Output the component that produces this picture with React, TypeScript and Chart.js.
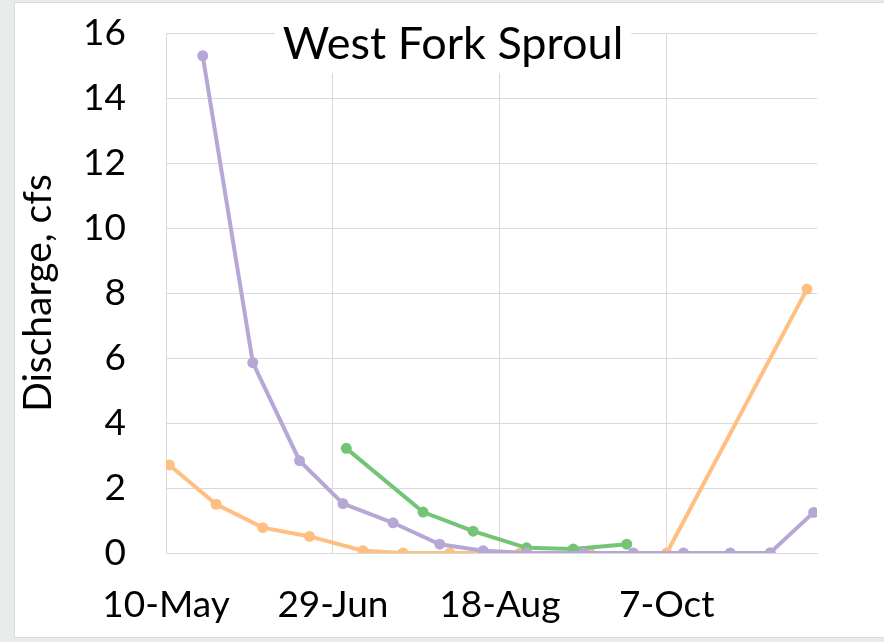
import React, { useEffect, useRef } from "react";
import { Chart, registerables } from "chart.js";

Chart.register(...registerables);

const titleText = "West Fork Sproul";
const yTitle = "Discharge, cfs";
const baseDate = [2019, 4, 10]; // 10-May
const xTicks = [0, 50, 100, 150];
const yTicks = [0, 2, 4, 6, 8, 10, 12, 14, 16];

const purpleDays = [11, 26, 40, 53, 68, 82, 95, 108, 125, 140, 155, 169, 181, 194];
const purpleVals = [15.3, 5.86, 2.84, 1.52, 0.93, 0.27, 0.07, 0, 0, 0, 0, 0, 0.01, 1.25];

const greenDays = [54, 77, 92, 108, 122, 138];
const greenVals = [3.22, 1.26, 0.67, 0.16, 0.12, 0.27];

const orangeDays = [1, 15, 29, 43, 59, 71, 85, 106, 127, 150, 192];
const orangeVals = [2.71, 1.5, 0.78, 0.51, 0.07, 0, 0, 0, 0, 0, 8.12];

const FONT = "Lato, 'Open Sans', sans-serif";
const MONTHS = ["Jan", "Feb", "Mar", "Apr", "May", "Jun", "Jul", "Aug", "Sep", "Oct", "Nov", "Dec"];

function fmtDay(d: number) {
  const dt = new Date(baseDate[0], baseDate[1], baseDate[2] + d);
  return `${dt.getDate()}-${MONTHS[dt.getMonth()]}`;
}

function pts(xs: number[], ys: number[]) {
  return xs.map((x, i) => ({ x, y: ys[i] }));
}

const titlePlugin = {
  id: "overlayTitle",
  afterDatasetsDraw(chart: any) {
    const ctx = chart.ctx as CanvasRenderingContext2D;
    ctx.save();
    ctx.font = `45px ${FONT}`;
    const w = ctx.measureText(titleText).width;
    const cx = 438;
    ctx.fillStyle = "#ffffff";
    ctx.fillRect(cx - w / 2 - 8, 10, w + 16, 60);
    ctx.fillStyle = "#000000";
    ctx.textAlign = "center";
    ctx.textBaseline = "alphabetic";
    ctx.fillText(titleText, cx, 56);
    ctx.restore();
  },
};

export default function App() {
  const ref = useRef<HTMLCanvasElement | null>(null);
  useEffect(() => {
    if (!ref.current) return;
    const ds = (label: string, xs: number[], ys: number[], color: string) => ({
      label,
      data: pts(xs, ys),
      borderColor: color,
      backgroundColor: color,
      borderWidth: 4,
      pointRadius: 5.5,
      pointHoverRadius: 5.5,
      pointBorderWidth: 0,
      tension: 0,
    });
    const chart = new Chart(ref.current, {
      type: "line",
      data: {
        datasets: [
          ds("Purple", purpleDays, purpleVals, "#b6a7d6"),
          ds("Green", greenDays, greenVals, "#74c476"),
          ds("Orange", orangeDays, orangeVals, "#ffbf80"),
        ],
      },
      options: {
        animation: false,
        responsive: false,
        layout: { padding: { left: 0, top: 30, right: 67, bottom: 0 } },
        plugins: { legend: { display: false }, title: { display: false }, tooltip: { enabled: false } },
        scales: {
          x: {
            type: "linear",
            min: 0,
            max: 195,
            afterBuildTicks: (s: any) => {
              s.ticks = xTicks.map((v) => ({ value: v }));
            },
            afterFit: (s: any) => {
              s.height = 84;
              s.paddingLeft = 0;
              s.paddingRight = 0;
            },
            ticks: {
              includeBounds: false,
              padding: 30,
              color: "#000",
              font: { family: FONT, size: 37 },
              maxRotation: 0,
              autoSkip: false,
              callback: (v: any) => fmtDay(Number(v)),
            },
            grid: { color: "#d9d9d9", lineWidth: 1, drawTicks: false },
            border: { color: "#d9d9d9" },
          },
          y: {
            min: 0,
            max: 16,
            afterBuildTicks: (s: any) => {
              s.ticks = yTicks.map((v) => ({ value: v }));
            },
            afterFit: (s: any) => {
              s.width = 151;
              s.paddingTop = 0;
              s.paddingBottom = 0;
            },
            ticks: {
              padding: 40,
              color: "#000",
              font: { family: FONT, size: 37 },
            },
            grid: { color: "#d9d9d9", lineWidth: 1, drawTicks: false },
            border: { color: "#d9d9d9" },
            title: {
              display: true,
              text: yTitle,
              color: "#000",
              font: { family: FONT, size: 39 },
              padding: { top: 0, bottom: 0 },
            },
          },
        },
      },
      plugins: [titlePlugin],
    });
    return () => chart.destroy();
  }, []);
  return (
    <div style={{ position: "fixed", inset: 0, background: "#e5ecea" }}>
      <div
        style={{
          position: "absolute",
          left: 15,
          top: 3,
          width: 869,
          height: 634,
          background: "#ffffff",
          boxShadow: "0 0 0 1px #d6dcda",
        }}
      >
        <canvas ref={ref} width={869} height={634} style={{ display: "block" }} />
      </div>
    </div>
  );
}
